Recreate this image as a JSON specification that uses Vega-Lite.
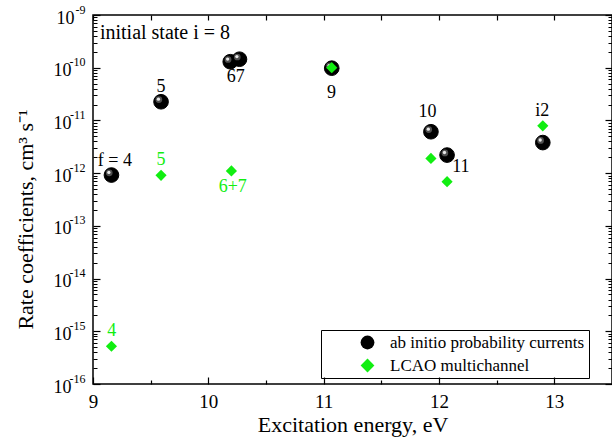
{
  "$schema": "https://vega.github.io/schema/vega-lite/v6.json",
  "width": 519,
  "height": 369,
  "autosize": {"type": "none"},
  "padding": {"left": 93, "top": 15, "right": 1, "bottom": 57},
  "background": "white",
  "config": {
    "font": "Liberation Serif",
    "view": {"stroke": "black", "strokeWidth": 1.5},
    "axis": {"grid": false, "labelColor": "black", "titleColor": "black", "labelOverlap": false, "labelBound": false}
  },
  "datasets": {
    "spheres": [
      {"E": 9.16, "rate": 9.2e-13, "method": "ab initio probability currents"},
      {"E": 9.59, "rate": 2.26e-11, "method": "ab initio probability currents"},
      {"E": 10.19, "rate": 1.3e-10, "method": "ab initio probability currents"},
      {"E": 10.27, "rate": 1.45e-10, "method": "ab initio probability currents"},
      {"E": 11.07, "rate": 9.8e-11, "method": "ab initio probability currents"},
      {"E": 11.93, "rate": 6.1e-12, "method": "ab initio probability currents"},
      {"E": 12.07, "rate": 2.2e-12, "method": "ab initio probability currents"},
      {"E": 12.9, "rate": 3.8e-12, "method": "ab initio probability currents"}
    ],
    "diamonds": [
      {"E": 9.16, "rate": 5.2e-16, "method": "LCAO multichannel"},
      {"E": 9.59, "rate": 9.1e-13, "method": "LCAO multichannel"},
      {"E": 10.2, "rate": 1.1e-12, "method": "LCAO multichannel"},
      {"E": 11.07, "rate": 1.0e-10, "method": "LCAO multichannel"},
      {"E": 11.93, "rate": 1.9e-12, "method": "LCAO multichannel"},
      {"E": 12.07, "rate": 6.9e-13, "method": "LCAO multichannel"},
      {"E": 12.9, "rate": 7.9e-12, "method": "LCAO multichannel"}
    ],
    "blackLabels": [
      {"E": 9.19, "rate": 1.7e-12, "label": "f = 4"},
      {"E": 9.59, "rate": 4.3e-11, "label": "5"},
      {"E": 10.238, "rate": 6.67e-11, "label": "67"},
      {"E": 11.069, "rate": 3.36e-11, "label": "9"},
      {"E": 11.9, "rate": 1.45e-11, "label": "10"},
      {"E": 12.19, "rate": 1.29e-12, "label": "11"},
      {"E": 12.896, "rate": 1.53e-11, "label": "i2"}
    ],
    "greenLabels": [
      {"E": 9.589, "rate": 1.78e-12, "label": "5"},
      {"E": 10.212, "rate": 5.52e-13, "label": "6+7"},
      {"E": 9.162, "rate": 1.02e-15, "label": "4"}
    ],
    "note": [
      {"E": 9.06, "rate": 4.5e-10, "label": "initial state i = 8"}
    ]
  },
  "layer": [
    {
      "data": {"name": "spheres"},
      "mark": {"type": "point", "filled": true, "size": 215, "opacity": 1, "fill": "#000000", "stroke": "black", "strokeWidth": 1},
      "encoding": {
        "x": {"field": "E", "type": "quantitative", "scale": {"domain": [9, 13.5], "nice": false, "zero": false},
          "axis": {"orient": "bottom", "values": [9, 10, 11, 12, 13], "format": "d", "ticks": true, "tickColor": "black", "tickSize": -7, "tickWidth": 1.2, "domain": false,
            "labelFontSize": 19, "labelPadding": 15, "labelFlush": false,
            "title": "Excitation energy, eV", "titleFontSize": 22, "titleFontWeight": "normal", "titleY": 47.5, "titleBaseline": "alphabetic"}},
        "y": {"field": "rate", "type": "quantitative", "scale": {"type": "log", "domain": [1e-16, 1e-9], "nice": false},
          "axis": {"orient": "left", "values": [1e-16, 1e-15, 1e-14, 1e-13, 1e-12, 1e-11, 1e-10, 1e-9], "labelExpr": "'10'",
            "ticks": false, "domain": false, "labelFontSize": 18, "labelOffset": 3,
            "labelPadding": {"condition": {"test": "datum.value > 5e-10", "value": 19}, "value": 22},
            "title": "Rate coefficients, cm³ s⁻¹", "titleFontSize": 22, "titleFontWeight": "normal",
            "titleAngle": -90, "titleX": -61, "titleY": 204, "titleBaseline": "alphabetic", "titleAlign": "center"}},
        "shape": {"field": "method", "type": "nominal",
          "scale": {"domain": ["ab initio probability currents", "LCAO multichannel"], "range": ["circle", "diamond"]},
          "legend": {"orient": "none", "legendX": 228, "legendY": 315, "title": null, "strokeColor": "black",
            "padding": 4, "symbolOffset": 34, "labelOffset": 14, "labelFontSize": 17, "labelColor": "black", "rowPadding": 5,
            "symbolSize": 190, "symbolStrokeWidth": 0, "labelLimit": 400, "labelExpr": "datum.label + '       '"}}
      }
    },
    {
      "data": {"name": "spheres"},
      "mark": {"type": "point", "filled": true, "size": 45, "opacity": 0.75, "fill": "#6a6a6a", "xOffset": -2.2, "yOffset": -2.2},
      "encoding": {
        "x": {"field": "E", "type": "quantitative", "scale": {"domain": [9, 13.5], "nice": false, "zero": false},
          "axis": {"orient": "bottom", "values": [9.5, 10.5, 11.5, 12.5], "labels": false, "domain": false, "title": null, "ticks": true, "tickColor": "black", "tickSize": -4, "tickWidth": 1.2}},
        "y": {"field": "rate", "type": "quantitative", "scale": {"type": "log", "domain": [1e-16, 1e-9], "nice": false},
          "axis": {"orient": "left", "values": [1e-16, 1e-15, 1e-14, 1e-13, 1e-12, 1e-11, 1e-10, 1e-9], "labels": false, "domain": false, "title": null, "ticks": true, "tickColor": "black", "tickSize": -7, "tickWidth": 1.2}}
      }
    },
    {
      "data": {"name": "spheres"},
      "mark": {"type": "point", "filled": true, "size": 11, "opacity": 1, "fill": "#e6e6e6", "xOffset": -2.6, "yOffset": -2.6},
      "encoding": {
        "x": {"field": "E", "type": "quantitative", "scale": {"domain": [9, 13.5], "nice": false, "zero": false},
          "axis": {"orient": "top", "values": [9, 9.5, 10, 10.5, 11, 11.5, 12, 12.5, 13], "labels": false, "domain": false, "title": null, "ticks": true, "tickColor": "black", "tickSize": -5, "tickWidth": 1.2}},
        "y": {"field": "rate", "type": "quantitative", "scale": {"type": "log", "domain": [1e-16, 1e-9], "nice": false},
          "axis": {"orient": "left",
            "values": [2e-16, 3e-16, 4e-16, 5e-16, 6e-16, 7e-16, 8e-16, 9e-16,
              2e-15, 3e-15, 4e-15, 5e-15, 6e-15, 7e-15, 8e-15, 9e-15,
              2e-14, 3e-14, 4e-14, 5e-14, 6e-14, 7e-14, 8e-14, 9e-14,
              2e-13, 3e-13, 4e-13, 5e-13, 6e-13, 7e-13, 8e-13, 9e-13,
              2e-12, 3e-12, 4e-12, 5e-12, 6e-12, 7e-12, 8e-12, 9e-12,
              2e-11, 3e-11, 4e-11, 5e-11, 6e-11, 7e-11, 8e-11, 9e-11,
              2e-10, 3e-10, 4e-10, 5e-10, 6e-10, 7e-10, 8e-10, 9e-10],
            "labels": false, "domain": false, "title": null, "ticks": true, "tickColor": "black", "tickSize": -4, "tickWidth": 1}}
      }
    },
    {
      "data": {"name": "diamonds"},
      "mark": {"type": "point", "filled": true, "size": 125, "opacity": 1},
      "encoding": {
        "x": {"field": "E", "type": "quantitative", "scale": {"domain": [9, 13.5], "nice": false, "zero": false}, "axis": null},
        "y": {"field": "rate", "type": "quantitative", "scale": {"type": "log", "domain": [1e-16, 1e-9], "nice": false},
          "axis": {"orient": "left", "values": [1e-16, 1e-15, 1e-14, 1e-13, 1e-12, 1e-11, 1e-10, 1e-9],
            "labelExpr": "'-' + round(-log(datum.value)/LN10)", "ticks": false, "domain": false, "labelFontSize": 12,
            "labelOffset": -6, "labelPadding": 8, "title": null}},
        "shape": {"field": "method", "type": "nominal",
          "scale": {"domain": ["ab initio probability currents", "LCAO multichannel"], "range": ["circle", "diamond"]}},
        "color": {"field": "method", "type": "nominal",
          "scale": {"domain": ["ab initio probability currents", "LCAO multichannel"], "range": ["#000000", "#11ee11"]}}
      }
    },
    {
      "data": {"name": "blackLabels"},
      "mark": {"type": "text", "fontSize": 18, "align": "center", "baseline": "middle", "color": "black"},
      "encoding": {
        "x": {"field": "E", "type": "quantitative", "scale": {"domain": [9, 13.5], "nice": false, "zero": false}, "axis": null},
        "y": {"field": "rate", "type": "quantitative", "scale": {"type": "log", "domain": [1e-16, 1e-9], "nice": false},
          "axis": {"orient": "right", "values": [1e-16, 1e-15, 1e-14, 1e-13, 1e-12, 1e-11, 1e-10, 1e-9], "labels": false, "domain": false, "title": null, "ticks": true, "tickColor": "black", "tickSize": -7, "tickWidth": 1.2}},
        "text": {"field": "label", "type": "nominal"}
      }
    },
    {
      "data": {"name": "greenLabels"},
      "mark": {"type": "text", "fontSize": 18, "align": "center", "baseline": "middle", "color": "#11ee11"},
      "encoding": {
        "x": {"field": "E", "type": "quantitative", "scale": {"domain": [9, 13.5], "nice": false, "zero": false}, "axis": null},
        "y": {"field": "rate", "type": "quantitative", "scale": {"type": "log", "domain": [1e-16, 1e-9], "nice": false},
          "axis": {"orient": "right",
            "values": [2e-16, 3e-16, 4e-16, 5e-16, 6e-16, 7e-16, 8e-16, 9e-16,
              2e-15, 3e-15, 4e-15, 5e-15, 6e-15, 7e-15, 8e-15, 9e-15,
              2e-14, 3e-14, 4e-14, 5e-14, 6e-14, 7e-14, 8e-14, 9e-14,
              2e-13, 3e-13, 4e-13, 5e-13, 6e-13, 7e-13, 8e-13, 9e-13,
              2e-12, 3e-12, 4e-12, 5e-12, 6e-12, 7e-12, 8e-12, 9e-12,
              2e-11, 3e-11, 4e-11, 5e-11, 6e-11, 7e-11, 8e-11, 9e-11,
              2e-10, 3e-10, 4e-10, 5e-10, 6e-10, 7e-10, 8e-10, 9e-10],
            "labels": false, "domain": false, "title": null, "ticks": true, "tickColor": "black", "tickSize": -4, "tickWidth": 1}},
        "text": {"field": "label", "type": "nominal"}
      }
    },
    {
      "data": {"name": "note"},
      "mark": {"type": "text", "fontSize": 20, "align": "left", "baseline": "middle", "color": "black"},
      "encoding": {
        "x": {"field": "E", "type": "quantitative", "scale": {"domain": [9, 13.5], "nice": false, "zero": false}, "axis": null},
        "y": {"field": "rate", "type": "quantitative", "scale": {"type": "log", "domain": [1e-16, 1e-9], "nice": false}, "axis": null},
        "text": {"field": "label", "type": "nominal"}
      }
    }
  ],
  "resolve": {"axis": {"x": "independent", "y": "independent"}}
}
